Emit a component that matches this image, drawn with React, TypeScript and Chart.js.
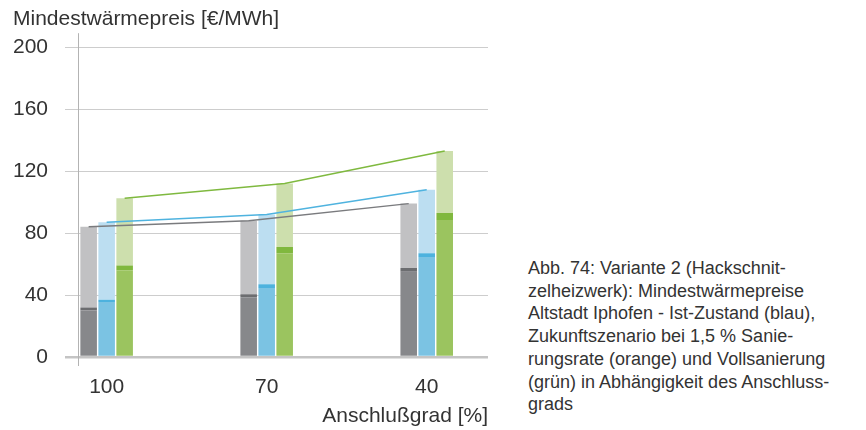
import React, { useEffect, useRef } from "react";
import { Chart, registerables } from "chart.js";

Chart.register(...registerables);

// ---- data ----
const categories = ["100", "70", "40"];
const xPositions = [0, 1, 2];
const yTicks = [0, 40, 80, 120, 160, 200];

const grayBase = [30, 38.5, 55];
const grayBand = [2, 2, 2.5];
const grayTop = [52, 47.5, 41.5];

const blueBase = [35.5, 44.5, 64.5];
const blueBand = [1.5, 2.5, 2.5];
const blueTop = [50, 45, 41];

const greenBase = [56, 67, 88.5];
const greenBand = [3, 4, 4.5];
const greenTop = [43.5, 41, 40];

const yTitle = "Mindestwärmepreis [€/MWh]";
const xTitle = "Anschlußgrad [%]";
const captionLines = [
  "Abb. 74: Variante 2 (Hackschnit-",
  "zelheizwerk): Mindestwärmepreise",
  "Altstadt Iphofen - Ist-Zustand (blau),",
  "Zukunftszenario bei 1,5 % Sanie-",
  "rungsrate (orange) und Vollsanierung",
  "(grün) in Abhängigkeit des Anschluss-",
  "grads",
];

const FONT = "'Liberation Sans', Arial, Helvetica, sans-serif";
const TEXT = "#333333";

const toPts = (vals: number[]) => vals.map((v, i) => ({ x: xPositions[i], y: v }));

const bar = (label: string, vals: number[], color: string, stack: string) => ({
  type: "bar" as const,
  label,
  data: toPts(vals),
  backgroundColor: color,
  borderWidth: 0,
  stack,
  categoryPercentage: 0.3375,
  barPercentage: 0.92,
});

const lineSpecs = [
  { datasetIndex: 2, color: "#7a7b7e" },
  { datasetIndex: 5, color: "#4fb3df" },
  { datasetIndex: 8, color: "#7fb93f" },
];

const overlayPlugin = {
  id: "overlay",
  beforeDatasetsDraw(chart: any) {
    const { ctx, chartArea } = chart;
    const y0 = chart.scales.y.getPixelForValue(0);
    ctx.save();
    ctx.strokeStyle = "#b3b3b3";
    ctx.lineWidth = 1;
    ctx.beginPath();
    ctx.moveTo(Math.round(chartArea.left) + 0.5, chartArea.top);
    ctx.lineTo(Math.round(chartArea.left) + 0.5, y0 + 9);
    ctx.stroke();
    ctx.restore();
  },
  afterDatasetsDraw(chart: any) {
    const ctx = chart.ctx;
    lineSpecs.forEach(({ datasetIndex, color }) => {
      const meta = chart.getDatasetMeta(datasetIndex);
      ctx.save();
      ctx.strokeStyle = color;
      ctx.lineWidth = 1.5;
      ctx.beginPath();
      meta.data.forEach((el: any, i: number) => {
        const { x, y } = el.getProps(["x", "y"], true);
        if (i === 0) ctx.moveTo(x, y);
        else ctx.lineTo(x, y);
      });
      ctx.stroke();
      ctx.restore();
    });
  },
};

export default function App() {
  const ref = useRef<HTMLCanvasElement | null>(null);

  useEffect(() => {
    if (!ref.current) return;
    const chart = new Chart(ref.current, {
      type: "bar",
      data: {
        datasets: [
          bar("Ist base", grayBase, "#87888b", "gray"),
          bar("Ist band", grayBand, "#6c6d70", "gray"),
          bar("Ist top", grayTop, "#c1c1c3", "gray"),
          bar("Zukunft base", blueBase, "#7bc3e3", "blue"),
          bar("Zukunft band", blueBand, "#4db2de", "blue"),
          bar("Zukunft top", blueTop, "#bcdef1", "blue"),
          bar("Voll base", greenBase, "#9bc45f", "green"),
          bar("Voll band", greenBand, "#80b83e", "green"),
          bar("Voll top", greenTop, "#cddfad", "green"),
        ],
      } as any,
      options: {
        animation: false,
        responsive: false,
        maintainAspectRatio: false,
        layout: { padding: { left: 13, right: 12, top: 0, bottom: 1 } },
        plugins: {
          legend: { display: false },
          tooltip: { enabled: false },
          title: {
            display: true,
            text: yTitle,
            align: "start",
            color: TEXT,
            font: { family: FONT, size: 21, weight: "normal" },
            padding: { top: 7, bottom: 1 },
          },
        },
        scales: {
          x: {
            type: "linear",
            offset: false,
            min: -0.179,
            max: 2.383,
            grid: { display: false, drawTicks: false, tickLength: 0, offset: false },
            border: { display: false },
            afterBuildTicks: (s: any) => {
              s.ticks = xPositions.map((v) => ({ value: v }));
            },
            afterFit: (s: any) => {
              s.height = 72;
            },
            ticks: {
              color: TEXT,
              font: { family: FONT, size: 21 },
              padding: 18,
              maxRotation: 0,
              autoSkip: false,
              callback: (_v: any, i: number) => categories[i],
            },
            title: {
              display: true,
              text: xTitle,
              align: "end",
              color: TEXT,
              font: { family: FONT, size: 21 },
              padding: { top: 5, bottom: 0 },
            },
          },
          y: {
            type: "linear",
            stacked: true,
            min: 0,
            max: 209,
            afterBuildTicks: (s: any) => {
              s.ticks = yTicks.map((v) => ({ value: v }));
            },
            afterFit: (s: any) => {
              s.width = 65;
            },
            grid: {
              color: (c: any) => (c.tick && c.tick.value === 0 ? "#c4c4c4" : "#cdcdcd"),
              lineWidth: (c: any) => (c.tick && c.tick.value === 0 ? 2.5 : 1),
              drawTicks: true,
              tickLength: 13,
            },
            border: { display: false },
            ticks: {
              color: TEXT,
              font: { family: FONT, size: 21 },
              padding: 17,
              callback: (v: any) => String(v),
            },
          },
        },
      } as any,
      plugins: [overlayPlugin],
    });
    return () => chart.destroy();
  }, []);

  return (
    <div style={{ position: "absolute", left: 0, top: 0, width: 866, height: 430, background: "#fff" }}>
      <canvas ref={ref} width={500} height={430} style={{ position: "absolute", left: 0, top: 0, width: 500, height: 430 }} />
      <div
        style={{
          position: "absolute",
          left: 528,
          top: 257,
          fontFamily: FONT,
          fontSize: 18,
          lineHeight: "22.7px",
          color: TEXT,
          whiteSpace: "nowrap",
        }}
      >
        {captionLines.map((l, i) => (
          <div key={i}>{l}</div>
        ))}
      </div>
    </div>
  );
}
